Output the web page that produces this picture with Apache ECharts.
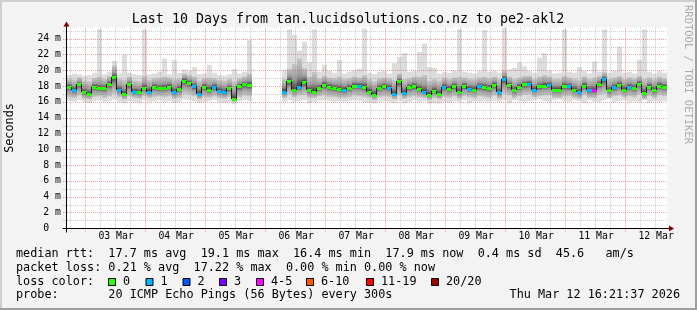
<!DOCTYPE html>
<html><head><meta charset="utf-8">
<script src="https://cdn.jsdelivr.net/npm/echarts@6/dist/echarts.min.js"></script>
<style>html,body{margin:0;padding:0;background:#f3f3f3}#c{width:697px;height:310px}</style>
</head><body><div id="c"></div>
<script>
// ---- data (2-hour slots, hours since Mon Mar 2 16:21:37) ----
const SLOT_HOURS = 2;
const medianRtt = [
  17.9, 17.5, 18.2, 17.2, 17.0, 17.9, 17.7, 17.75, 18.25, 19.1,
  17.5, 16.95, 18.2, 17.25, 17.2, 17.75, 17.3, 17.9, 17.7, 17.75,
  17.9, 17.2, 17.6, 18.7, 18.4, 17.95, 17.0, 17.9, 17.5, 17.9,
  17.4, 17.2, 17.7, 16.4, 17.95, 18.2, 18.1, null, null, null,
  null, null, null, 17.3, 18.6, 17.55, 17.9, 18.5, 17.45, 17.3,
  17.75, 18.15, 17.9, 17.75, 17.6, 17.5, 17.75, 18.05, 18.05, 17.9,
  17.3, 16.9, 17.75, 17.95, 17.8, 17.0, 18.6, 17.1, 17.85, 18.0,
  17.6, 17.25, 16.9, 17.35, 17.0, 17.9, 17.65, 18.0, 17.2, 18.0,
  17.65, 17.55, 17.95, 17.85, 17.75, 18.15, 17.2, 18.9, 18.1, 17.45,
  17.9, 18.2, 18.3, 17.55, 17.95, 18.05, 18.15, 17.55, 17.55, 18.0,
  17.95, 17.55, 17.2, 18.05, 17.45, 17.45, 18.25, 18.9, 17.45, 17.85,
  18.15, 17.55, 17.9, 17.75, 18.3, 17.1, 17.9, 17.45, 18.05, 17.9
];
const lostPings = [
  0,1,0,0,0,0,0,0,0,0,
  1,0,0,1,0,0,1,0,0,0,
  0,1,0,0,0,1,1,0,0,1,
  1,1,0,0,0,0,0,null,null,null,
  null,null,null,1,0,0,1,0,0,0,
  0,0,0,0,0,1,0,0,1,0,
  0,0,0,0,1,1,0,1,0,0,
  0,1,0,0,0,1,0,0,0,0,
  1,0,1,0,0,0,1,1,0,0,
  0,0,1,1,0,0,1,0,0,0,
  1,0,1,0,1,4,0,1,0,1,
  0,0,1,0,0,0,0,0,0,0
];
const pingMax = [
  19.4, 19.6, 19.5, 19.3, 19.4, 19.7, 25.2, 19.5, 19.8, 21.2,
  19.6, 22.0, 19.7, 19.5, 19.4, 25.2, 19.5, 19.6, 19.8, 21.5,
  19.5, 21.3, 19.7, 20.1, 19.9, 20.4, 19.5, 19.6, 20.7, 19.7,
  19.4, 19.3, 19.5, 20.2, 19.6, 19.8, 23.8, null, null, null,
  null, null, null, 20.0, 25.2, 24.5, 22.5, 23.6, 21.0, 25.2,
  19.8, 20.7, 19.9, 19.7, 21.3, 19.6, 19.8, 20.0, 20.2, 25.3,
  19.7, 19.5, 19.8, 19.9, 19.6, 20.9, 21.7, 22.2, 19.8, 19.9,
  22.3, 23.4, 20.4, 20.3, 19.6, 19.8, 19.7, 19.9, 25.2, 19.8,
  19.7, 19.6, 19.9, 25.1, 19.8, 19.9, 19.7, 25.4, 20.1, 20.3,
  21.0, 20.5, 19.9, 19.7, 21.6, 22.2, 19.9, 19.6, 19.7, 25.2,
  19.8, 19.7, 20.4, 19.9, 19.6, 21.1, 19.8, 25.2, 19.7, 19.9,
  23.0, 19.7, 19.8, 19.6, 21.3, 25.2, 19.8, 19.6, 19.9, 19.7
];
const pingUpperQ = [
  18.9, 18.8, 19.1, 18.7, 18.6, 19.0, 19.2, 18.9, 19.3, 20.6,
  18.9, 18.8, 19.2, 18.7, 18.6, 19.3, 18.8, 19.0, 19.1, 19.2,
  19.1, 18.9, 19.0, 19.6, 19.4, 19.2, 18.7, 19.0, 19.1, 19.0,
  18.8, 18.7, 18.9, 18.6, 19.0, 19.2, 19.6, null, null, null,
  null, null, null, 18.9, 20.2, 20.8, 21.5, 20.3, 19.2, 19.8,
  19.0, 19.3, 19.1, 19.0, 19.2, 18.9, 19.0, 19.2, 19.1, 19.4,
  18.9, 18.6, 19.0, 19.1, 19.0, 18.8, 19.6, 18.9, 19.0, 19.2,
  19.2, 19.4, 18.7, 18.9, 18.7, 19.1, 18.9, 19.1, 19.2, 19.1,
  18.9, 18.9, 19.1, 19.2, 19.0, 19.2, 18.9, 20.0, 19.2, 18.9,
  19.1, 19.3, 19.3, 18.9, 19.2, 19.4, 19.2, 18.9, 18.9, 19.3,
  19.1, 18.9, 18.8, 19.2, 18.9, 19.1, 19.3, 19.8, 18.9, 19.1,
  19.3, 18.9, 19.1, 19.0, 19.3, 18.9, 19.1, 18.9, 19.2, 19.0
];
const pingLowerQ = [
  16.6, 16.5, 16.8, 16.4, 16.3, 16.6, 16.7, 16.5, 16.7, 17.0,
  16.6, 16.3, 16.7, 16.5, 16.4, 16.7, 16.5, 16.6, 16.7, 16.6,
  16.7, 16.4, 16.5, 17.0, 16.9, 16.7, 16.3, 16.6, 16.5, 16.7,
  16.5, 16.4, 16.6, 16.0, 16.6, 16.8, 16.7, null, null, null,
  null, null, null, 16.5, 16.9, 16.6, 16.8, 16.9, 16.5, 16.5,
  16.7, 16.8, 16.6, 16.6, 16.5, 16.5, 16.6, 16.8, 16.7, 16.6,
  16.5, 16.2, 16.6, 16.7, 16.6, 16.3, 16.8, 16.4, 16.6, 16.7,
  16.6, 16.5, 16.2, 16.5, 16.3, 16.6, 16.5, 16.7, 16.4, 16.7,
  16.6, 16.5, 16.7, 16.6, 16.5, 16.8, 16.4, 17.0, 16.8, 16.5,
  16.7, 16.9, 16.9, 16.6, 16.7, 16.8, 16.8, 16.5, 16.5, 16.7,
  16.7, 16.5, 16.4, 16.8, 16.5, 16.5, 16.9, 17.0, 16.5, 16.7,
  16.8, 16.6, 16.7, 16.6, 16.9, 16.3, 16.7, 16.5, 16.8, 16.7
];
const pingMin = [
  16.1, 16.0, 16.2, 16.0, 15.9, 16.1, 16.2, 16.0, 16.1, 16.3,
  16.0, 15.9, 16.1, 16.0, 15.9, 16.2, 16.0, 16.1, 16.2, 16.0,
  16.1, 15.9, 16.0, 16.3, 16.2, 16.1, 15.9, 16.0, 16.1, 16.2,
  16.0, 15.9, 16.0, 15.7, 16.1, 16.2, 16.1, null, null, null,
  null, null, null, 16.0, 16.2, 16.0, 16.1, 16.2, 15.9, 16.0,
  16.1, 16.2, 16.1, 16.0, 16.1, 16.0, 16.1, 16.2, 16.1, 16.0,
  15.9, 15.8, 16.0, 16.1, 16.0, 15.9, 16.1, 15.9, 16.0, 16.2,
  16.0, 16.1, 15.8, 15.9, 15.8, 16.0, 15.9, 16.1, 16.0, 16.2,
  15.9, 16.1, 16.0, 16.1, 16.0, 16.1, 16.0, 16.2, 15.9, 16.2,
  16.1, 16.0, 16.1, 16.2, 16.3, 16.1, 16.0, 16.2, 16.3, 16.1,
  16.0, 16.2, 16.1, 15.9, 16.2, 16.0, 16.0, 16.2, 16.4, 16.0,
  16.1, 16.2, 16.0, 16.1, 16.0, 16.3, 15.9, 16.1, 16.0, 16.1
];
// axis / legend text
const dayLabels = ['03 Mar','04 Mar','05 Mar','06 Mar','07 Mar','08 Mar','09 Mar','10 Mar','11 Mar','12 Mar'];
const dayStartHours = [7.64, 31.64, 55.64, 79.64, 103.64, 127.64, 151.64, 175.64, 199.64, 223.64];
const yTicks = [0,2,4,6,8,10,12,14,16,18,20,22,24];
const lossLabels = ['0','1','2','3','4-5','6-10','11-19','20/20'];
const lossColors = ['#26ff00','#00b8ff','#0059ff','#7e00ff','#ff00ff','#ff5500','#ff0000','#a10000'];
const statLines = [
  'median rtt:  17.7 ms avg  19.1 ms max  16.4 ms min  17.9 ms now  0.4 ms sd  45.6   am/s',
  'packet loss: 0.21 % avg  17.22 % max  0.00 % min 0.00 % now',
  'loss color:',
  'probe:       20 ICMP Echo Pings (56 Bytes) every 300s'
];
const dateText = 'Thu Mar 12 16:21:37 2026';
const titleText = 'Last 10 Days from tan.lucidsolutions.co.nz to pe2-akl2';

// ---- build ----
const X_MAX = 240, Y_MAX = 25.4;
const MONO = '"DejaVu Sans Mono", monospace';
function lossIndex(n){ if(n<=0) return 0; if(n<=3) return n; if(n<=5) return 4; if(n<=10) return 5; if(n<=19) return 6; return 7; }

const smokeData = [], medData = [];
for (let i = 0; i < medianRtt.length; i++) {
  if (medianRtt[i] == null) continue;
  const t = i * SLOT_HOURS;
  const prev = (i > 0 && medianRtt[i-1] != null) ? medianRtt[i-1] : medianRtt[i];
  smokeData.push([t, pingMin[i], pingMax[i], pingLowerQ[i], pingUpperQ[i], medianRtt[i]]);
  medData.push([t, medianRtt[i], prev, lossIndex(lostPings[i])]);
}
const labelHours = dayStartHours.map(h => h + 12);
const vGrid = [];
dayStartHours.forEach(h => { vGrid.push([h, 0, 1]); });
for (let h = dayStartHours[0] - 6; h < X_MAX; h += 6) {
  if (h > 0 && !dayStartHours.some(d => Math.abs(d - h) < 0.01)) vGrid.push([h, 0, 0]);
}
const hGrid = [];
for (let v = 1; v <= 25; v++) hGrid.push([0, v, v % 2 === 0 ? 1 : 0]);

const MAJ = 'rgba(222,80,80,0.55)', MIN = 'rgba(143,143,143,0.45)';

function smokeItem(params, api) {
  const t = api.value(0), lo = api.value(1), hi = api.value(2), q1 = api.value(3), q3 = api.value(4), med = api.value(5);
  const x0 = Math.round(api.coord([t, 0])[0]), x1 = Math.round(api.coord([t + SLOT_HOURS, 0])[0]);
  const yLo = api.coord([t, lo])[1], yHi = api.coord([t, hi])[1];
  const yQ1 = api.coord([t, q1])[1], yQ3 = api.coord([t, q3])[1];
  const m = Math.max(0.05, Math.min(0.95, (q3 - med) / (q3 - q1)));
  const grad = new echarts.graphic.LinearGradient(0, 0, 0, 1, [
    {offset: 0, color: '#c9c9c9'},
    {offset: m * 0.6, color: '#9a9a9a'},
    {offset: m, color: '#3a3a3a'},
    {offset: m + (1 - m) * 0.4, color: '#9a9a9a'},
    {offset: 1, color: '#c9c9c9'}
  ]);
  return {type: 'group', children: [
    {type: 'rect', shape: {x: x0, y: yHi, width: x1 - x0, height: yLo - yHi}, style: {fill: '#dddddd'}},
    {type: 'rect', shape: {x: x0, y: yQ3, width: x1 - x0, height: yQ1 - yQ3}, style: {fill: grad}}
  ]};
}
function medItem(params, api) {
  const t = api.value(0), med = api.value(1), prev = api.value(2), li = api.value(3);
  const x0 = Math.round(api.coord([t, 0])[0]), x1 = Math.round(api.coord([t + SLOT_HOURS, 0])[0]);
  const y = Math.round(api.coord([t, med])[1]), yp = Math.round(api.coord([t, prev])[1]);
  const ch = [];
  if (y !== yp) ch.push({type: 'line', shape: {x1: x0 - 0.5, y1: yp, x2: x0 - 0.5, y2: y}, style: {stroke: '#202020', lineWidth: 1}});
  ch.push({type: 'rect', shape: {x: x0, y: y - 1, width: x1 - x0, height: 3}, style: {fill: lossColors[li]}});
  return {type: 'group', children: ch};
}
function hGridItem(params, api) {
  const cs = params.coordSys;
  const y = Math.round(api.coord([0, api.value(1)])[1]) + 0.5;
  const major = api.value(2) === 1;
  return {type: 'line', shape: {x1: cs.x - 4, y1: y, x2: cs.x + cs.width, y2: y},
    style: {stroke: major ? MAJ : MIN, lineWidth: 1, lineDash: [1, 1]}};
}
function vGridItem(params, api) {
  const cs = params.coordSys;
  const x = Math.round(api.coord([api.value(0), 0])[0]) - 0.5;
  const major = api.value(2) === 1;
  return {type: 'line', shape: {x1: x, y1: cs.y, x2: x, y2: cs.y + cs.height + 4},
    style: {stroke: major ? MAJ : MIN, lineWidth: 1, lineDash: [1, 1]}};
}

const chart = echarts.init(document.getElementById('c'), null, {renderer: 'canvas'});
const option = {
  animation: false,
  backgroundColor: '#f3f3f3',
  textStyle: {fontFamily: MONO},
  grid: {left: 67, right: 30, top: 27.6, bottom: 81.7, show: true, backgroundColor: '#ffffff', borderWidth: 0},
  xAxis: {type: 'value', min: 0, max: X_MAX,
    axisLine: {show: false}, axisTick: {show: false}, splitLine: {show: false},
    axisLabel: {customValues: labelHours, margin: 3, fontSize: 9.8, fontFamily: MONO, color: '#000',
      formatter: v => { const k = labelHours.findIndex(h => Math.abs(h - v) < 0.01); return k >= 0 ? dayLabels[k] : ''; }}},
  yAxis: {type: 'value', min: 0, max: Y_MAX, interval: 2,
    axisLine: {show: false}, axisTick: {show: false}, splitLine: {show: false},
    axisLabel: {margin: 6, fontSize: 9.8, fontFamily: MONO, color: '#000', showMaxLabel: false,
      formatter: v => yTicks.indexOf(v) < 0 ? '' : (v === 0 ? '0  ' : v + ' m')}},
  series: [
    {type: 'custom', name: 'smoke', renderItem: smokeItem, data: smokeData, encode: {x: 0, y: [1, 2]}, z: 2, silent: true, clip: true},
    {type: 'custom', name: 'hgrid', renderItem: hGridItem, data: hGrid, encode: {x: 0, y: 1}, z: 3, silent: true},
    {type: 'custom', name: 'vgrid', renderItem: vGridItem, data: vGrid, encode: {x: 0, y: 1}, z: 3, silent: true},
    {type: 'custom', name: 'median', renderItem: medItem, data: medData, encode: {x: 0, y: 1}, z: 4, silent: true, clip: true}
  ]
};
chart.setOption(option);

// decorations: frame, axes with arrows, texts
const p0 = chart.convertToPixel({gridIndex: 0}, [0, 0]);
const pT = chart.convertToPixel({gridIndex: 0}, [0, Y_MAX]);
const pR = chart.convertToPixel({gridIndex: 0}, [X_MAX, 0]);
const ax = Math.round(p0[0]) - 0.5, ay = Math.round(p0[1]) + 0.5;
const g = [
  {type: 'rect', shape: {x: 0, y: 0, width: 697, height: 2}, style: {fill: '#cfcfcf'}, z: 10},
  {type: 'rect', shape: {x: 0, y: 0, width: 2, height: 310}, style: {fill: '#cfcfcf'}, z: 10},
  {type: 'rect', shape: {x: 0, y: 308, width: 697, height: 2}, style: {fill: '#9e9e9e'}, z: 10},
  {type: 'rect', shape: {x: 695, y: 0, width: 2, height: 310}, style: {fill: '#9e9e9e'}, z: 10},
  {type: 'line', shape: {x1: ax - 4, y1: ay, x2: pR[0] + 3, y2: ay}, style: {stroke: '#000', lineWidth: 1}, z: 10},
  {type: 'line', shape: {x1: ax, y1: ay + 4, x2: ax, y2: pT[1] - 2}, style: {stroke: '#000', lineWidth: 1}, z: 10},
  {type: 'polygon', shape: {points: [[ax - 3, pT[1] - 1], [ax + 3, pT[1] - 1], [ax, pT[1] - 6]]}, style: {fill: '#7f0000'}, z: 11},
  {type: 'polygon', shape: {points: [[pR[0] + 2, ay - 3], [pR[0] + 2, ay + 3], [pR[0] + 7, ay]]}, style: {fill: '#7f0000'}, z: 11},
  {type: 'text', x: 348, y: 19.5, style: {text: titleText, fontSize: 13.3, fontFamily: MONO, fill: '#000', align: 'center', verticalAlign: 'middle'}, z: 10},
  {type: 'text', x: 10, y: 128, rotation: Math.PI / 2, style: {text: 'Seconds', fontSize: 11.8, fontFamily: MONO, fill: '#000', align: 'center', verticalAlign: 'middle'}, z: 10},
  {type: 'text', x: 688, y: 5, rotation: -Math.PI / 2, style: {text: 'RRDTOOL / TOBI OETIKER', fontSize: 10.5, fontFamily: MONO, fill: '#ababab', align: 'left', verticalAlign: 'middle'}, z: 10},
  {type: 'text', x: 680, y: 295.4, style: {text: dateText, fontSize: 11.8, fontFamily: MONO, fill: '#000', align: 'right', verticalAlign: 'middle'}, z: 10}
];
const lineY = [253.6, 267.8, 281.8, 295.4];
statLines.forEach((s, k) => g.push({type: 'text', x: 16, y: lineY[k], style: {text: s, fontSize: 11.8, fontFamily: MONO, fill: '#000', align: 'left', verticalAlign: 'middle'}, z: 10}));
const boxX = [108, 145.5, 182.5, 219, 256, 306, 366, 431];
lossLabels.forEach((lab, k) => {
  g.push({type: 'rect', shape: {x: boxX[k] + 0.5, y: 278.5, width: 7, height: 7}, style: {fill: lossColors[k], stroke: '#000', lineWidth: 1}, z: 10});
  g.push({type: 'text', x: boxX[k] + 15, y: lineY[2], style: {text: lab, fontSize: 11.8, fontFamily: MONO, fill: '#000', align: 'left', verticalAlign: 'middle'}, z: 10});
});
chart.setOption({graphic: g});
</script>
</body></html>
